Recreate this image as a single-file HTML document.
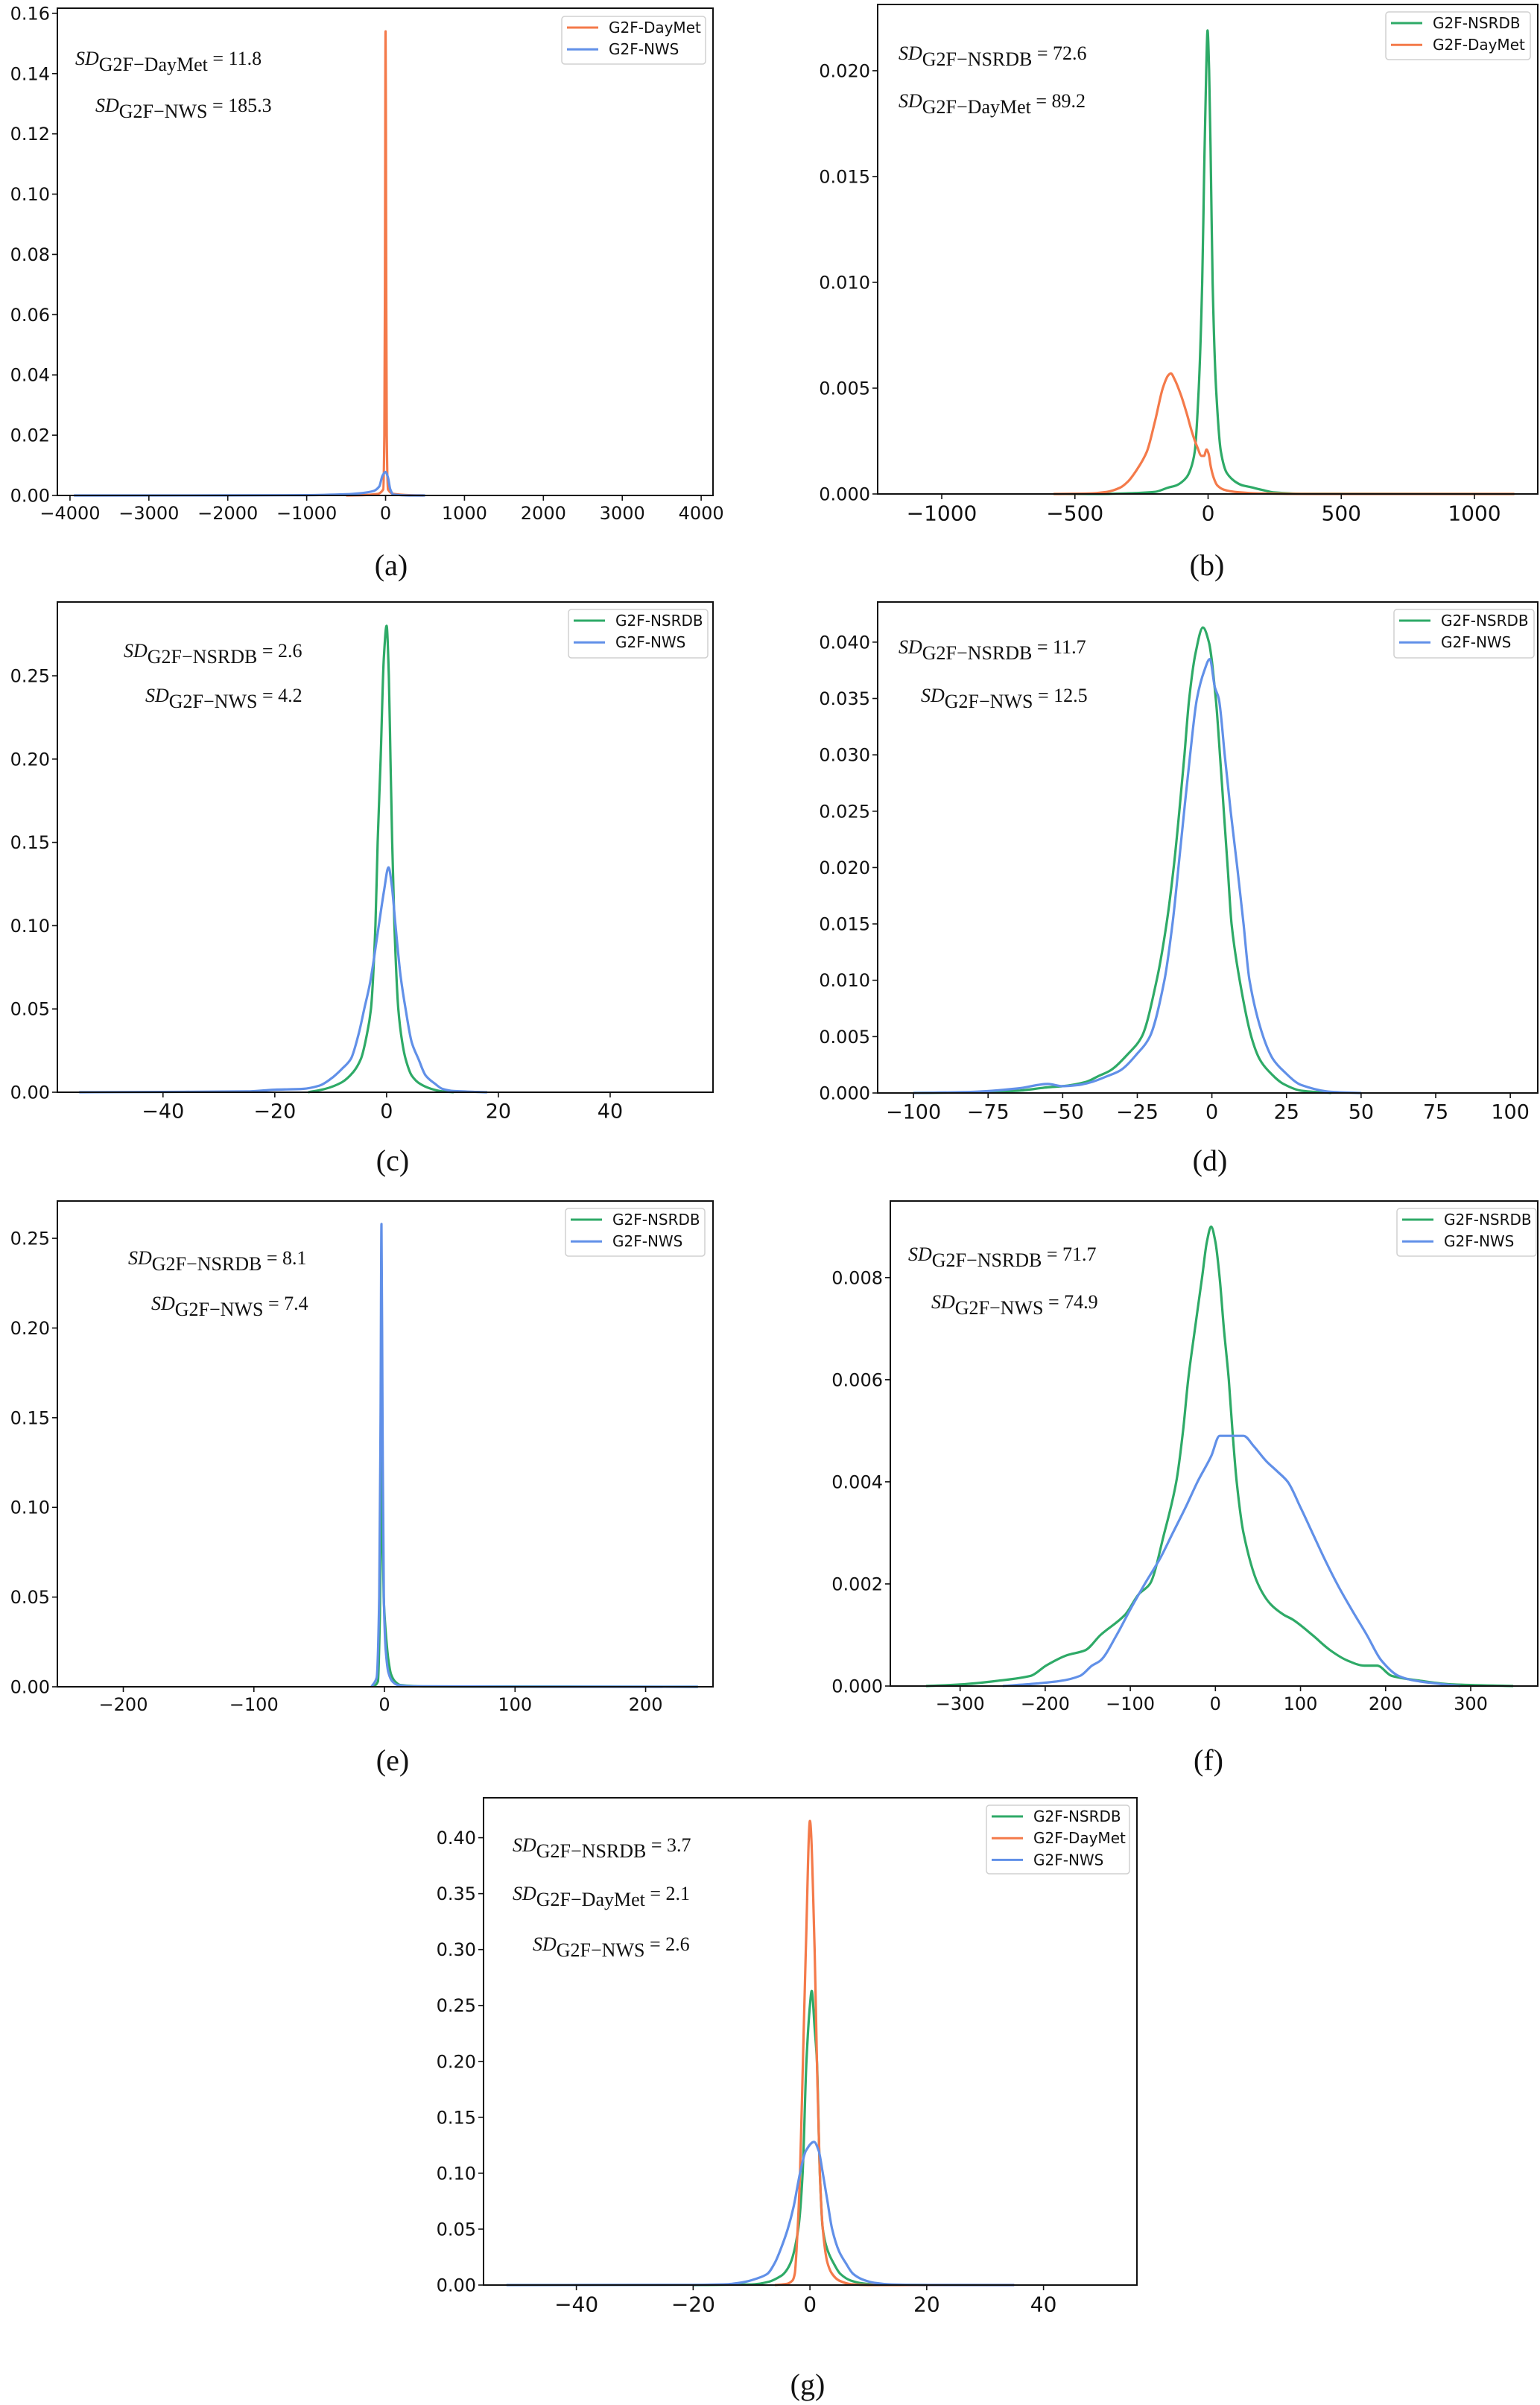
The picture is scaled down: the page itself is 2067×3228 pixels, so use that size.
<!DOCTYPE html>
<html><head><meta charset="utf-8"><style>
html,body{margin:0;padding:0;background:#fff;}
svg{display:block;}
</style></head><body>
<svg id="fig" width="2067" height="3228" viewBox="0 0 2067 3228" xmlns="http://www.w3.org/2000/svg"></svg>
<script>
// ---- data arrays (x value, density) ----
const aDayMetX=[-500,-300,-100,-30,-15,-8,-4,0,4,8,15,30,100,300,480];
const aDayMetY=[0,0.0001,0.0005,0.002,0.02,0.07,0.12,0.154,0.12,0.07,0.02,0.002,0.0005,0.0001,0];
const aNwsX=[-3950,-2000,-1000,-500,-300,-150,-80,-40,0,30,60,100,300,500];
const aNwsY=[0,0.00002,0.0001,0.0004,0.0008,0.0015,0.003,0.0065,0.0078,0.006,0.002,0.0003,0,0];

const bNsrdbX=[-580,-400,-300,-200,-150,-120,-100,-80,-65,-50,-35,-22,-15,-7,-2,4,11,17,30,48,70,100,130,150,200,250,350,1150];
const bNsrdbY=[0,0,0.00003,0.0001,0.0003,0.0004,0.00055,0.0008,0.0012,0.002,0.005,0.01,0.015,0.02,0.0219,0.02,0.015,0.01,0.005,0.002,0.001,0.0006,0.0004,0.00035,0.0002,0.00007,0.00001,0];
const bDayMetX=[-580,-450,-380,-330,-300,-270,-230,-200,-170,-150,-140,-125,-100,-80,-60,-40,-25,-15,-6,2,10,20,35,60,100,200,400,1150];
const bDayMetY=[0,0.00002,0.0001,0.0003,0.0006,0.0011,0.002,0.0034,0.005,0.0056,0.0057,0.0054,0.0046,0.0038,0.0029,0.0022,0.0018,0.0018,0.0021,0.0019,0.0013,0.0008,0.0004,0.0002,0.0001,0.00002,0,0];

const cNsrdbX=[-14,-11,-8,-6,-4.6,-3.5,-2.8,-2,-1.6,-1.06,-0.5,0,0.4,0.7,1.0,1.4,2.1,2.8,3.4,4.5,6,8,10,12];
const cNsrdbY=[0,0.002,0.006,0.012,0.02,0.035,0.05,0.1,0.15,0.2,0.26,0.28,0.25,0.2,0.15,0.1,0.05,0.03,0.02,0.01,0.005,0.002,0.0005,0];
const cNwsX=[-55,-40,-25,-20,-15,-12,-10,-8,-6.4,-5,-4,-3,-1.4,-0.5,0.35,0.9,1.6,2.5,3.4,4.5,5.7,7,8.7,10,12,18];
const cNwsY=[0,0.0002,0.0005,0.0015,0.002,0.004,0.008,0.014,0.02,0.035,0.05,0.065,0.1,0.12,0.135,0.125,0.1,0.07,0.05,0.03,0.02,0.01,0.005,0.002,0.0007,0];

const dNsrdbX=[-100,-80,-65,-55,-50,-42,-38,-34,-28,-23.5,-18.5,-15.2,-12.8,-10.9,-9.2,-7.6,-5.5,-3,-1,1.3,2.7,4,5.3,6.6,9.3,13.2,16,18.8,24,30,40];
const dNsrdbY=[0,0.00005,0.0002,0.0005,0.0006,0.001,0.0015,0.002,0.0035,0.005,0.01,0.015,0.02,0.025,0.03,0.035,0.039,0.0413,0.04,0.035,0.03,0.025,0.02,0.015,0.01,0.005,0.003,0.002,0.0008,0.0002,0];
const dNwsX=[-100,-80,-65,-55,-50,-45,-40,-35,-30.7,-25,-20.8,-15.9,-13.2,-11.2,-9.3,-7.3,-5,-2.5,-0.7,1,2.3,4.3,6.3,8.5,10.6,12.6,17.2,20.5,23.8,30,40,50];
const dNwsY=[0,0.0001,0.0004,0.0008,0.0006,0.0007,0.001,0.0015,0.002,0.0035,0.005,0.01,0.015,0.02,0.025,0.03,0.035,0.0375,0.0385,0.036,0.035,0.03,0.025,0.02,0.015,0.01,0.005,0.003,0.002,0.0007,0.0001,0];

const eNsrdbX=[-8,-5,-3.5,-2.6,-2.2,-1.6,-0.6,1,3,5,8,12,30,240];
const eNsrdbY=[0,0.003,0.04,0.1,0.14,0.1,0.05,0.03,0.015,0.007,0.003,0.001,0.0002,0];
const eNwsX=[-10,-6,-4,-3,-2.3,-1.5,-0.5,1,3,6,10,20,100,240];
const eNwsY=[0,0.005,0.05,0.15,0.258,0.15,0.05,0.02,0.008,0.003,0.001,0.0003,0.0001,0];

const fNsrdbX=[-340,-300,-257,-217,-199,-175,-153,-135,-106,-90,-77,-60,-46,-38,-32,-24,-15.7,-10,-5,0,5,10,15.7,20,25,33,50,65,80,91,114,135,155,175,190,207,242,280,350];
const fNsrdbY=[0,0.00003,0.0001,0.0002,0.0004,0.0006,0.0007,0.001,0.0014,0.0018,0.002,0.003,0.004,0.005,0.006,0.007,0.008,0.0087,0.009,0.0087,0.008,0.007,0.006,0.005,0.004,0.003,0.002,0.0016,0.0014,0.0013,0.001,0.0007,0.0005,0.0004,0.0004,0.0002,0.0001,0.00003,0];
const fNwsX=[-250,-210,-182,-159,-145,-135,-116,-100,-83,-65,-50,-35,-21,-5,5,15,33,45,60,73,85,100,114,128,143,160,178,195,215,236,288];
const fNwsY=[0,0.00005,0.0001,0.0002,0.0004,0.0005,0.001,0.0015,0.002,0.0025,0.003,0.0035,0.004,0.0045,0.0049,0.0049,0.0049,0.0047,0.0044,0.0042,0.004,0.0035,0.003,0.0025,0.002,0.0015,0.001,0.0005,0.0002,0.0001,0];

const gNsrdbX=[-20,-10,-7,-5,-4.5,-3.3,-2,-1.25,-0.6,0,0.3,0.8,1.2,1.7,2.2,3.1,4,5.2,7,9,12,20];
const gNsrdbY=[0,0.0005,0.003,0.008,0.01,0.02,0.05,0.1,0.2,0.25,0.263,0.23,0.2,0.1,0.05,0.03,0.02,0.01,0.004,0.0015,0.0003,0];
const gDayMetX=[-6,-4,-3,-2.6,-2.1,-1.7,-1.2,-0.7,0,0.8,1.2,1.7,2.2,3,3.8,5,7,10,35];
const gDayMetY=[0,0.001,0.004,0.01,0.05,0.1,0.2,0.3,0.415,0.3,0.2,0.1,0.05,0.02,0.01,0.004,0.0008,0,0];
const gNwsX=[-52,-20,-14,-11,-9,-7.3,-6,-4.8,-3.8,-2.8,-1.7,-0.7,0.7,1.5,2.2,3,3.8,5,6.1,7.4,9,11,14,20,35];
const gNwsY=[0,0.0002,0.0008,0.003,0.006,0.01,0.02,0.035,0.05,0.07,0.1,0.12,0.128,0.12,0.1,0.075,0.05,0.03,0.02,0.01,0.005,0.002,0.0005,0.0001,0];

const aXTicks=[-4000,-3000,-2000,-1000,0,1000,2000,3000,4000];
const aYTicks=[0,0.02,0.04,0.06,0.08,0.10,0.12,0.14,0.16];
const bXTicks=[-1000,-500,0,500,1000];
const bYTicks=[0,0.005,0.010,0.015,0.020];
const cXTicks=[-40,-20,0,20,40];
const cYTicks=[0,0.05,0.10,0.15,0.20,0.25];
const dXTicks=[-100,-75,-50,-25,0,25,50,75,100];
const dYTicks=[0,0.005,0.010,0.015,0.020,0.025,0.030,0.035,0.040];
const eXTicks=[-200,-100,0,100,200];
const eYTicks=[0,0.05,0.10,0.15,0.20,0.25];
const fXTicks=[-300,-200,-100,0,100,200,300];
const fYTicks=[0,0.002,0.004,0.006,0.008];
const gXTicks=[-40,-20,0,20,40];
const gYTicks=[0,0.05,0.10,0.15,0.20,0.25,0.30,0.35,0.40];

const GREEN='#2eaa67', ORANGE='#f47a4a', BLUE='#6190e8';
const NS='http://www.w3.org/2000/svg';
const fig=document.getElementById('fig');
function mk(tag,attrs,parent){const e=document.createElementNS(NS,tag);for(const k in attrs)e.setAttribute(k,attrs[k]);(parent||fig).appendChild(e);return e;}

// monotone cubic path through pixel points
function monoPath(px,py){
  const n=px.length;if(n<2)return '';
  const d=[],m=new Array(n).fill(0);
  for(let i=0;i<n-1;i++){const dx=px[i+1]-px[i];d.push(dx===0?0:(py[i+1]-py[i])/dx);}
  m[0]=d[0];m[n-1]=d[n-2];
  for(let i=1;i<n-1;i++){m[i]=(d[i-1]*d[i]<=0)?0:(2/(1/d[i-1]+1/d[i]));}
  let s='M'+px[0].toFixed(1)+','+py[0].toFixed(1);
  for(let i=0;i<n-1;i++){
    const h=(px[i+1]-px[i])/3;
    s+=' C'+(px[i]+h).toFixed(1)+','+(py[i]+m[i]*h).toFixed(1)+' '+(px[i+1]-h).toFixed(1)+','+(py[i+1]-m[i+1]*h).toFixed(1)+' '+px[i+1].toFixed(1)+','+py[i+1].toFixed(1);
  }
  return s;
}

const panels=[
 {id:'a',L:77,R:957,T:11,B:665,x0:-4160,x1:4150,y1:0.1617,xt:aXTicks,yt:aYTicks,yd:2,xf:24,
  series:[['G2F-DayMet',ORANGE,aDayMetX,aDayMetY],['G2F-NWS',BLUE,aNwsX,aNwsY]],
  leg:[754,22,193,64],
  ann:[[101,87,'G2F\u2212DayMet','11.8'],[128,150,'G2F\u2212NWS','185.3']],cap:[525,772]},
 {id:'b',L:1178,R:2064,T:6,B:663,x0:-1240.6,x1:1237.8,y1:0.02313,xt:bXTicks,yt:bYTicks,yd:3,xf:28,
  series:[['G2F-NSRDB',GREEN,bNsrdbX,bNsrdbY],['G2F-DayMet',ORANGE,bDayMetX,bDayMetY]],
  leg:[1860,16,194,64],
  ann:[[1206,80,'G2F\u2212NSRDB','72.6'],[1206,144,'G2F\u2212DayMet','89.2']],cap:[1620,772]},
 {id:'c',L:77,R:957,T:808,B:1466,x0:-58.9,x1:58.4,y1:0.2943,xt:cXTicks,yt:cYTicks,yd:2,xf:27,
  series:[['G2F-NSRDB',GREEN,cNsrdbX,cNsrdbY],['G2F-NWS',BLUE,cNwsX,cNwsY]],
  leg:[763,818,187,65],
  ann:[[166,882,'G2F\u2212NSRDB','2.6'],[195,942,'G2F\u2212NWS','4.2']],cap:[527,1571]},
 {id:'d',L:1178,R:2064,T:808,B:1467,x0:-112,x1:109.2,y1:0.04356,xt:dXTicks,yt:dYTicks,yd:3,xf:27,
  series:[['G2F-NSRDB',GREEN,dNsrdbX,dNsrdbY],['G2F-NWS',BLUE,dNwsX,dNwsY]],
  leg:[1871,818,188,65],
  ann:[[1206,877,'G2F\u2212NSRDB','11.7'],[1236,942,'G2F\u2212NWS','12.5']],cap:[1624,1571]},
 {id:'e',L:77,R:957,T:1612,B:2264,x0:-250.5,x1:251.6,y1:0.2708,xt:eXTicks,yt:eYTicks,yd:2,xf:24,
  series:[['G2F-NSRDB',GREEN,eNsrdbX,eNsrdbY],['G2F-NWS',BLUE,eNwsX,eNwsY]],
  leg:[759,1622,187,64],
  ann:[[172,1697,'G2F\u2212NSRDB','8.1'],[203,1758,'G2F\u2212NWS','7.4']],cap:[527,2376]},
 {id:'f',L:1195,R:2064,T:1612,B:2263,x0:-382,x1:378.8,y1:0.0095,xt:fXTicks,yt:fYTicks,yd:3,xf:24,
  series:[['G2F-NSRDB',GREEN,fNsrdbX,fNsrdbY],['G2F-NWS',BLUE,fNwsX,fNwsY]],
  leg:[1875,1622,187,64],
  ann:[[1219,1692,'G2F\u2212NSRDB','71.7'],[1250,1756,'G2F\u2212NWS','74.9']],cap:[1622,2376]},
 {id:'g',L:649,R:1526,T:2413,B:3067,x0:-55.9,x1:56,y1:0.4357,xt:gXTicks,yt:gYTicks,yd:2,xf:28,
  series:[['G2F-NSRDB',GREEN,gNsrdbX,gNsrdbY],['G2F-DayMet',ORANGE,gDayMetX,gDayMetY],['G2F-NWS',BLUE,gNwsX,gNwsY]],
  leg:[1324,2423,192,92],
  ann:[[688,2485,'G2F\u2212NSRDB','3.7'],[688,2550,'G2F\u2212DayMet','2.1'],[715,2618,'G2F\u2212NWS','2.6']],cap:[1084,3214]}
];

function fmtX(v){return (v<0?'\u2212':'')+Math.abs(v);}
for(const p of panels){
  const g=mk('g',{});
  
  
  const sx=v=>p.L+(v-p.x0)/(p.x1-p.x0)*(p.R-p.L);
  const sy=v=>p.B-v/p.y1*(p.B-p.T);
  for(const s of p.series){
    const d=monoPath(s[2].map(sx),s[3].map(sy));
    const path=mk('path',{d:d,fill:'none',stroke:s[1],'stroke-width':3.2,'stroke-linejoin':'round'},g);
    
    
  }
  const fr=mk('rect',{x:p.L,y:p.T,width:p.R-p.L,height:p.B-p.T,fill:'none',stroke:'#111','stroke-width':2},g);
  
  
  for(const t of p.xt){
    const x=sx(t);
    const tl=mk('line',{x1:x,y1:p.B,x2:x,y2:p.B+7,stroke:'#111','stroke-width':1.6},g);
    
    
    const tx=mk('text',{x:x,y:p.B+14+p.xf*0.76,'text-anchor':'middle','font-family':'DejaVu Sans, sans-serif','font-size':p.xf,fill:'#111'},g);
    tx.textContent=fmtX(t);
    
    
  }
  for(const t of p.yt){
    const y=sy(t);
    const tl=mk('line',{x1:p.L-7,y1:y,x2:p.L,y2:y,stroke:'#111','stroke-width':1.6},g);
    
    
    const tx=mk('text',{x:p.L-10,y:y+8.5,'text-anchor':'end','font-family':'DejaVu Sans, sans-serif','font-size':24,fill:'#111'},g);
    tx.textContent=t.toFixed(p.yd);
    
    
  }
  const [lx,ly,lw,lh]=p.leg;
  const lg=mk('g',{},g);
  
  
  mk('rect',{x:lx,y:ly,width:lw,height:lh,rx:4,fill:'#fff','fill-opacity':0.85,stroke:'#d0d0d0','stroke-width':1.5},lg);
  p.series.forEach((s,i)=>{
    const yy=ly+15+i*29.2;
    const le=mk('g',{},lg);
    
    
    mk('line',{x1:lx+7,y1:yy,x2:lx+49,y2:yy,stroke:s[1],'stroke-width':3},le);
    const t=mk('text',{x:lx+63,y:yy+7,'font-family':'DejaVu Sans, sans-serif','font-size':20,fill:'#111'},le);
    t.textContent=s[0];
  });
  for(const a of p.ann){
    const t=mk('text',{x:a[0],y:a[1],'font-family':'Liberation Serif, serif','font-size':26,fill:'#111'},g);
    
    
    const s1=mk('tspan',{'font-style':'italic'},t);s1.textContent='SD';
    const s2=mk('tspan',{dy:8},t);s2.textContent=a[2];
    const s3=mk('tspan',{dy:-8},t);s3.textContent=' = '+a[3];
  }
  const cp=mk('text',{x:p.cap[0],y:p.cap[1],'text-anchor':'middle','font-family':'Liberation Serif, serif','font-size':40,fill:'#111'},g);
  cp.textContent='('+p.id+')';
  
  
}
</script>
</body></html>
